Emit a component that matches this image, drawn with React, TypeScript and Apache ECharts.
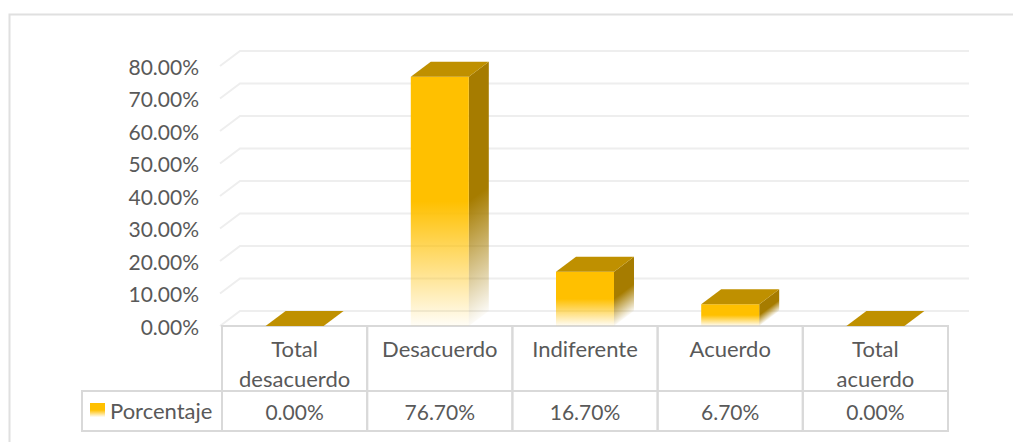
import React, { useEffect, useRef } from "react";
import * as echarts from "echarts";

const categories = ["Total\ndesacuerdo", "Desacuerdo", "Indiferente", "Acuerdo", "Total\nacuerdo"];
const values = [0, 76.7, 16.7, 6.7, 0];
const tableLabels = ["0.00%", "76.70%", "16.70%", "6.70%", "0.00%"];
const gridValues = [0, 10, 20, 30, 40, 50, 60, 70, 80];
const seriesName = "Porcentaje";

const FONT = "Lato";
const TEXT = "#595959";
const LINE = "#d9d9d9";
const DX = 20;
const DY = 15;
const BAR_W = 58;
const ROW1 = 65;
const ROW2 = 40;

const fade = (c: string) =>
  new echarts.graphic.LinearGradient(0, 0, 0, 1, [
    { offset: 0, color: c },
    { offset: 0.5, color: c },
    { offset: 1, color: c + "08" },
  ]);

export default function App() {
  const ref = useRef<HTMLDivElement>(null);
  useEffect(() => {
    document.body.style.margin = "0";
    const chart = echarts.init(ref.current!, undefined, { renderer: "svg" });
    chart.setOption({
      animation: false,
      backgroundColor: "#fff",
      textStyle: { fontFamily: FONT },
      grid: { left: 222, right: 65, top: 66, bottom: 116 },
      legend: {
        left: 90,
        top: 399,
        itemWidth: 15,
        itemHeight: 14,
        itemGap: 0,
        padding: 0,
        textStyle: { fontFamily: FONT, fontSize: 22, color: TEXT },
        data: [
          {
            name: seriesName,
            icon: "rect",
            itemStyle: { color: fade("#FFC000") },
          },
        ],
      },
      xAxis: {
        type: "category",
        data: categories,
        axisLine: { show: false },
        axisTick: { show: false },
        axisLabel: {
          interval: 0,
          margin: 7,
          fontFamily: FONT,
          fontSize: 22,
          lineHeight: 30,
          color: TEXT,
          align: "center",
          verticalAlign: "top",
        },
      },
      yAxis: {
        type: "value",
        min: 0,
        max: 80,
        interval: 10,
        axisLine: { show: false },
        axisTick: { show: false },
        splitLine: { show: false },
        axisLabel: {
          margin: 23,
          fontFamily: FONT,
          fontSize: 21,
          color: TEXT,
          formatter: (v: number) => v.toFixed(2) + "%",
        },
      },
      graphic: [
        {
          type: "rect",
          shape: { x: 9.5, y: 14.5, width: 1020, height: 440 },
          style: { fill: "none", stroke: "#e0e0e0", lineWidth: 2 },
          silent: true,
          z: 0,
        },
        {
          type: "rect",
          shape: { x: 82, y: 326 + ROW1, width: 140, height: ROW2 },
          style: { fill: "none", stroke: LINE, lineWidth: 2 },
          silent: true,
          z: 0,
        },
      ],
      series: [
        {
          type: "custom",
          name: "grid",
          silent: true,
          z: 1,
          data: gridValues,
          encode: { y: 0 },
          renderItem: (_: any, api: any) => {
            const [x0, y] = api.coord([0, api.value(0)]);
            const size = api.size([1, 0])[0];
            const left = x0 - size / 2;
            const right = left + size * categories.length;
            return {
              type: "polyline",
              shape: {
                points: [
                  [left - 2, y],
                  [left + DX - 2, y - DY],
                  [right + DX + 1, y - DY],
                ],
              },
              style: { fill: "none", stroke: "#eeeeee", lineWidth: 2 },
            };
          },
        },
        {
          type: "custom",
          name: seriesName,
          z: 3,
          data: values.map((v, i) => [i, v]),
          encode: { x: 0, y: 1 },
          renderItem: (_: any, api: any) => {
            const i = api.value(0);
            const v = api.value(1);
            const [cx, top] = api.coord([i, v]);
            const [, base] = api.coord([i, 0]);
            const size = api.size([1, 0])[0];
            const l = cx - BAR_W / 2;
            const r = cx + BAR_W / 2;
            const children: any[] = [];
            children.push({
              type: "rect",
              shape: { x: cx - size / 2, y: base, width: size, height: ROW1 },
              style: { fill: "none", stroke: LINE, lineWidth: 2 },
            });
            children.push({
              type: "rect",
              shape: { x: cx - size / 2, y: base + ROW1, width: size, height: ROW2 },
              style: { fill: "none", stroke: LINE, lineWidth: 2 },
            });
            children.push({
              type: "text",
              style: {
                x: cx,
                y: base + ROW1 + ROW2 / 2,
                text: tableLabels[i],
                align: "center",
                verticalAlign: "middle",
                fontFamily: FONT,
                fontSize: 21,
                fill: TEXT,
              },
            });
            if (v > 0) {
              const y0 = top + (base - top) * 0.5;
              const d = (base - y0) * 0.8;
              children.push({
                type: "polygon",
                shape: {
                  points: [
                    [r, top],
                    [r + DX, top - DY],
                    [r + DX, base - DY],
                    [r, base],
                  ],
                },
                style: {
                  fill: new echarts.graphic.LinearGradient(
                    r,
                    y0,
                    r + d * 0.6,
                    y0 + d * 0.8,
                    [
                      { offset: 0, color: "#A67C00" },
                      { offset: 1, color: "#A67C0008" },
                    ],
                    true
                  ),
                },
              });
              children.push({
                type: "rect",
                shape: { x: l, y: top, width: BAR_W, height: base - top },
                style: { fill: fade("#FFC000") },
              });
            }
            children.push({
              type: "polygon",
              shape: {
                points: [
                  [l, top],
                  [l + DX, top - DY],
                  [r + DX, top - DY],
                  [r, top],
                ],
              },
              style: { fill: "#BF9000" },
            });
            return { type: "group", children };
          },
        },
      ],
    });
    return () => chart.dispose();
  }, []);
  return <div ref={ref} style={{ width: 1013, height: 442 }} />;
}
